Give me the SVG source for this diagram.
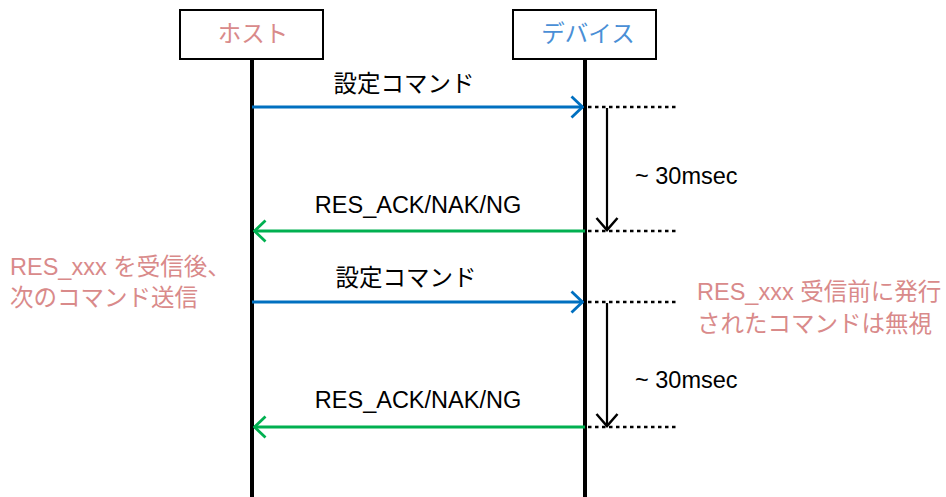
<svg xmlns="http://www.w3.org/2000/svg" width="946" height="497" viewBox="0 0 946 497">
<defs>
<marker id="ah" viewBox="0 0 14 24" refX="13" refY="12" markerWidth="14" markerHeight="24" markerUnits="userSpaceOnUse" orient="auto">
<path d="M1.5,1.5 L12.5,12 L1.5,22.5" fill="none" stroke="context-stroke" stroke-width="2.8"/>
</marker>
<marker id="ahb" viewBox="0 0 16 24" refX="14" refY="12" markerWidth="16" markerHeight="24" markerUnits="userSpaceOnUse" orient="auto">
<path d="M2,1.5 L14,12 L2,22.5" fill="none" stroke="#000" stroke-width="2.5"/>
</marker>
</defs>
<style>
text{font-family:"Liberation Sans","Noto Sans CJK JP",sans-serif;font-size:23.5px;}
.box{fill:#fff;stroke:#000;stroke-width:2;}
.life{stroke:#000;stroke-width:4;}
.msg{fill:#000;text-anchor:middle;}
.blue{stroke:#0070c0;stroke-width:2.8;fill:none;}
.green{stroke:#00b050;stroke-width:2.8;fill:none;}
.dot{stroke:#000;stroke-width:2.5;stroke-dasharray:3.5,3.5;}
.vert{stroke:#000;stroke-width:2.2;}
.note{fill:#d98a8a;}
.time{fill:#000;}
</style>
<g id="host">
<rect class="box" x="180" y="10" width="143" height="49"/>
<text x="253" y="42" fill="#d98a8a" text-anchor="middle">ホスト</text>
</g>
<g id="device">
<rect class="box" x="513" y="10" width="143" height="49"/>
<text x="588" y="42" fill="#4a8fd6" text-anchor="middle">デバイス</text>
</g>
<g id="lifelines">
<line class="life" x1="252" y1="59" x2="252" y2="497"/>
<line class="life" x1="585" y1="59" x2="585" y2="497"/>
</g>
<g id="connectors">
<line class="blue" x1="252" y1="107" x2="583" y2="107" marker-end="url(#ah)"/>
<line class="green" x1="585" y1="231" x2="254" y2="231" marker-end="url(#ah)"/>
<line class="blue" x1="252" y1="302" x2="583" y2="302" marker-end="url(#ah)"/>
<line class="green" x1="585" y1="427" x2="254" y2="427" marker-end="url(#ah)"/>
<line class="dot" x1="588" y1="107" x2="678" y2="107"/>
<line class="dot" x1="588" y1="231" x2="678" y2="231"/>
<line class="dot" x1="588" y1="302" x2="678" y2="302"/>
<line class="dot" x1="588" y1="427" x2="678" y2="427"/>
<line class="vert" x1="607" y1="108" x2="607" y2="230" marker-end="url(#ahb)"/>
<line class="vert" x1="607" y1="303" x2="607" y2="426" marker-end="url(#ahb)"/>
</g>
<g id="labels">
<text class="msg" x="404" y="92">設定コマンド</text>
<text class="msg" x="418" y="213">RES_ACK/NAK/NG</text>
<text class="msg" x="406" y="286">設定コマンド</text>
<text class="msg" x="418" y="408">RES_ACK/NAK/NG</text>
<text class="time" x="635" y="184">~ 30msec</text>
<text class="time" x="635" y="388">~ 30msec</text>
</g>
<g id="notes">
<text class="note" x="10" y="275">RES_xxx を受信後、</text>
<text class="note" x="10" y="306">次のコマンド送信</text>
<text class="note" x="697" y="300">RES_xxx 受信前に発行</text>
<text class="note" x="697" y="332">されたコマンドは無視</text>
</g>
</svg>
